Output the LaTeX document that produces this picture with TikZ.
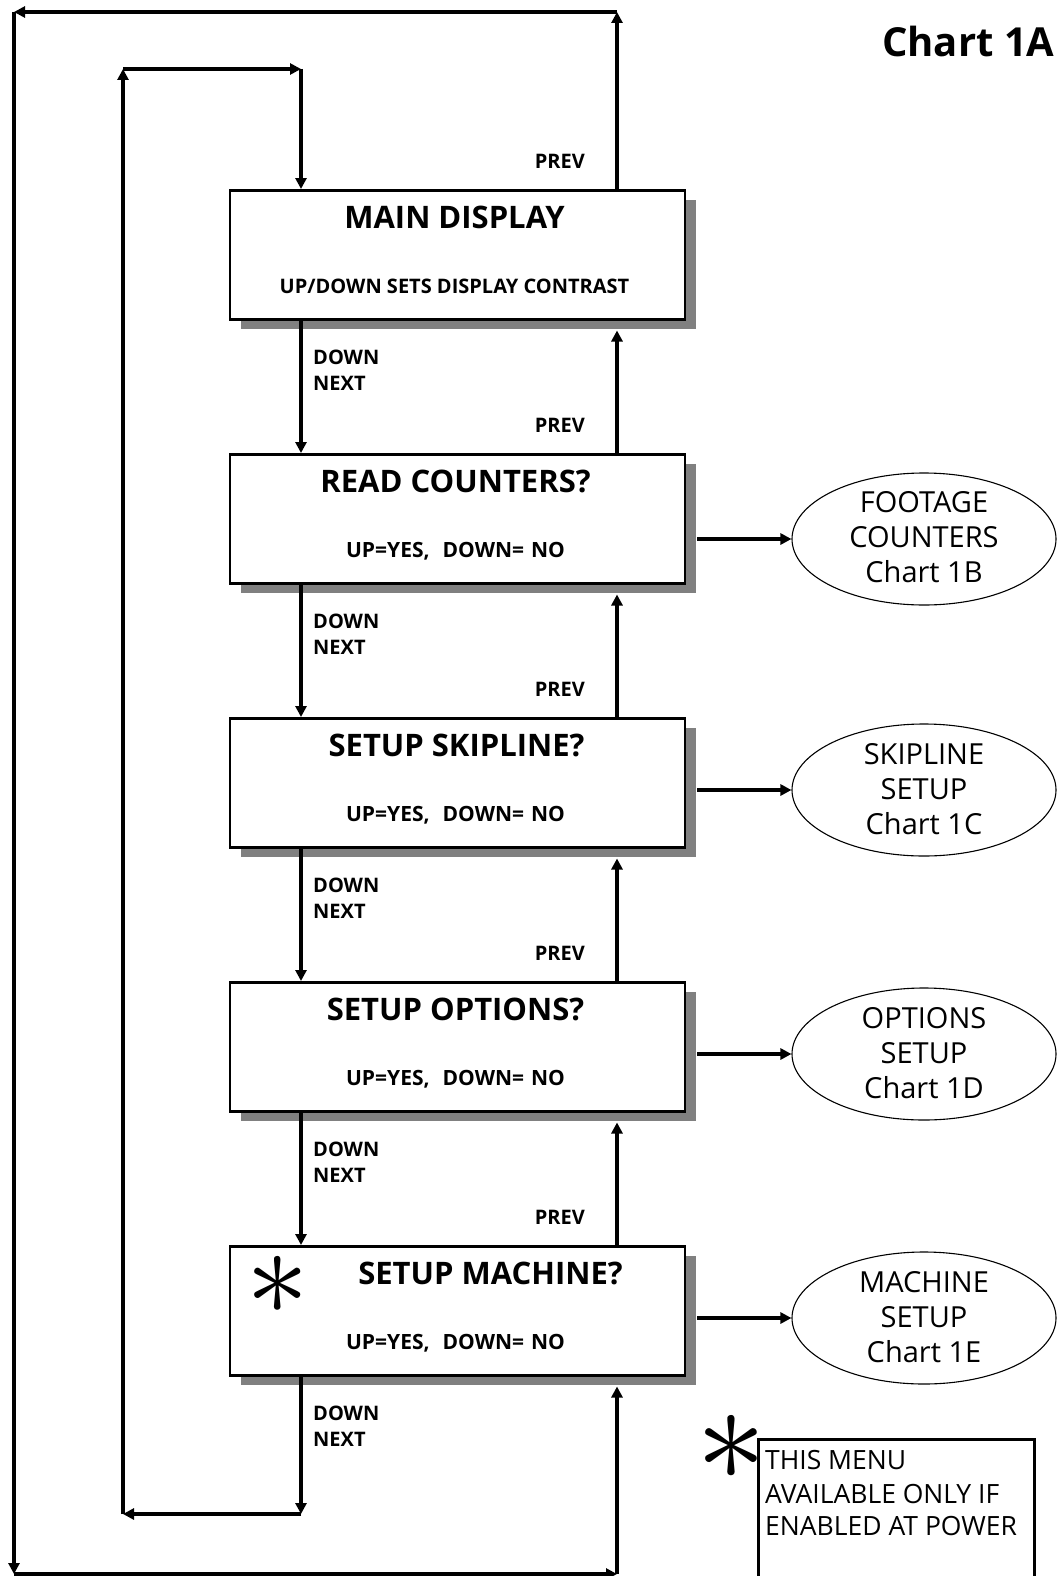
\documentclass[tikz,border=0pt]{standalone}
\usepackage{fontspec}
\setmainfont{Open Sans}
\usetikzlibrary{arrows.meta,shapes.geometric,shadows,calc}
\definecolor{shadowgray}{RGB}{128,128,128}
\begin{document}
\begin{tikzpicture}[x=1pt,y=-1pt,
  arr/.style={line width=3.2pt,-{Triangle[length=11pt,width=11pt]}},
  menubox/.style={draw,line width=2.5pt,fill=white,minimum width=455pt,minimum height=129pt,inner sep=0pt,
     drop shadow={shadow xshift=11pt,shadow yshift=-10pt,fill=shadowgray,opacity=1}},
  ttl/.style={font=\bfseries\fontsize{31}{31}\selectfont,anchor=base,inner sep=0pt},
  sub/.style={font=\bfseries\fontsize{20}{20}\selectfont,anchor=base,inner sep=0pt},
  yn/.style={font=\bfseries\fontsize{21}{21}\selectfont,anchor=base,inner sep=0pt},
  lbl/.style={font=\bfseries\fontsize{20}{20}\selectfont,anchor=base west,inner sep=0pt},
  lblr/.style={font=\bfseries\fontsize{20}{20}\selectfont,anchor=base east,inner sep=0pt},
  ell/.style={draw,ellipse,line width=1.1pt,minimum width=264pt,minimum height=132pt,inner sep=0pt},
  eltext/.style={font=\fontsize{29}{29}\selectfont,anchor=base,inner sep=0pt},
  notetext/.style={font=\fontsize{26.5}{26.5}\selectfont,anchor=base west,inner sep=0pt},
  astx/.style={inner sep=0pt}
]
\clip (0,0) rectangle (1058,1576);
\fill[white] (0,0) rectangle (1058,1576);

% title
\node[anchor=base west,font=\bfseries\fontsize{40}{40}\selectfont,inner sep=0pt] (title) at (882,57) {Chart 1A};

% menu boxes
\node[menubox] (b1) at (457.5,254.75) {};
\node[menubox] (b2) at (457.5,518.75) {};
\node[menubox] (b3) at (457.5,782.75) {};
\node[menubox] (b4) at (457.5,1046.75) {};
\node[menubox] (b5) at (457.5,1310.75) {};

\newcommand{\yesno}{UP=YES,\hspace{13pt}DOWN=\hspace{7pt}NO}
\node[ttl] (t1) at ($(b1.north)+(-3,39)$) {MAIN DISPLAY};
\node[sub] (s1) at ($(b1.north)+(-3,104)$) {UP/DOWN SETS DISPLAY CONTRAST};
\node[ttl] (t2) at ($(b2.north)+(-2,39)$) {READ COUNTERS?};
\node[yn] (s2) at ($(b2.north)+(-2,104)$) {\yesno};
\node[ttl] (t3) at ($(b3.north)+(-1,39)$) {SETUP SKIPLINE?};
\node[yn] (s3) at ($(b3.north)+(-2,104)$) {\yesno};
\node[ttl] (t4) at ($(b4.north)+(-2,39)$) {SETUP OPTIONS?};
\node[yn] (s4) at ($(b4.north)+(-2,104)$) {\yesno};
\node[ttl] (t5) at ($(b5.north)+(33,39)$) {SETUP MACHINE?};
\node[yn] (s5) at ($(b5.north)+(-2,104)$) {\yesno};
\node[astx] (a5) at (278,1285) {\scalebox{12.5}{$\ast$}};

% sub-chart ellipses
\node[ell] (e1) at (924,539) {};
\node[ell] (e2) at (924,790) {};
\node[ell] (e3) at (924,1054) {};
\node[ell] (e4) at (924,1318) {};

\node[eltext] (e1a) at ($(e1.center)+(0,-27)$) {FOOTAGE};
\node[eltext] (e1b) at ($(e1.center)+(0,8)$) {COUNTERS};
\node[eltext] (e1c) at ($(e1.center)+(0,43)$) {Chart 1B};
\node[eltext] (e2a) at ($(e2.center)+(0,-26)$) {SKIPLINE};
\node[eltext] (e2b) at ($(e2.center)+(0,9)$) {SETUP};
\node[eltext] (e2c) at ($(e2.center)+(0,44)$) {Chart 1C};
\node[eltext] (e3a) at ($(e3.center)+(0,-26)$) {OPTIONS};
\node[eltext] (e3b) at ($(e3.center)+(0,9)$) {SETUP};
\node[eltext] (e3c) at ($(e3.center)+(0,44)$) {Chart 1D};
\node[eltext] (e4a) at ($(e4.center)+(0,-26)$) {MACHINE};
\node[eltext] (e4b) at ($(e4.center)+(0,9)$) {SETUP};
\node[eltext] (e4c) at ($(e4.center)+(0,44)$) {Chart 1E};

\draw[arr] ([xshift=11pt]b2.east |- e1.west) -- (e1.west);
\draw[arr] ([xshift=11pt]b3.east |- e2.west) -- (e2.west);
\draw[arr] ([xshift=11pt]b4.east |- e3.west) -- (e3.west);
\draw[arr] ([xshift=11pt]b5.east |- e4.west) -- (e4.west);

% note
\node[draw,line width=2.5pt,anchor=north west,minimum width=276pt,minimum height=220pt,inner sep=0pt] (note) at (757,1438) {};
\node[notetext] (n1) at (765,1469) {THIS MENU};
\node[notetext] (n2) at (765,1503) {AVAILABLE ONLY IF};
\node[notetext] (n3) at (765,1535) {ENABLED AT POWER};
\node[astx] (an) at (731,1448) {\scalebox{14}{$\ast$}};

% vertical flow arrows
\coordinate (dn) at (301,0);
\coordinate (up) at (617,0);
\foreach \u/\l in {b1/b2,b2/b3,b3/b4,b4/b5}{
  \draw[arr] (\u.south -| dn) -- (\l.north -| dn);
  \draw[arr] (\l.north -| up) -- ([yshift=-10pt]\u.south -| up);
}

% DOWN/NEXT and PREV labels
\foreach \b/\k in {b1/1,b2/2,b3/3,b4/4,b5/5}{
  \node[lbl] (dw\k) at ($(\b.south -| dn)+(12,44)$) {DOWN};
  \node[lbl] (nx\k) at ($(\b.south -| dn)+(12,70)$) {NEXT};
  \node[lblr] (pv\k) at ($(\b.north -| up)+(-32,-21)$) {PREV};
}

% outer loop (PREV from main display to machine)
\coordinate (otr) at (617,12);
\coordinate (otl) at (14,12);
\coordinate (obl) at (14,1574);
\coordinate (obr) at (617,1574);
\draw[arr] (b1.north -| otr) -- (otr);
\draw[arr] (otr) -- (otl);
\draw[arr] (otl) -- (obl);
\draw[arr] (obl) -- (obr);
\draw[arr] (obr) -- ([yshift=-10pt]b5.south -| obr);

% inner loop (NEXT from machine to main display)
\coordinate (itl) at (123,69);
\coordinate (itr) at (301,69);
\coordinate (ibl) at (123,1514);
\coordinate (ibr) at (301,1514);
\draw[arr] (b5.south -| ibr) -- (ibr);
\draw[arr] (ibr) -- (ibl);
\draw[arr] (ibl) -- (itl);
\draw[arr] (itl) -- (itr);
\draw[arr] (itr) -- (b1.north -| itr);
\end{tikzpicture}
\end{document}
